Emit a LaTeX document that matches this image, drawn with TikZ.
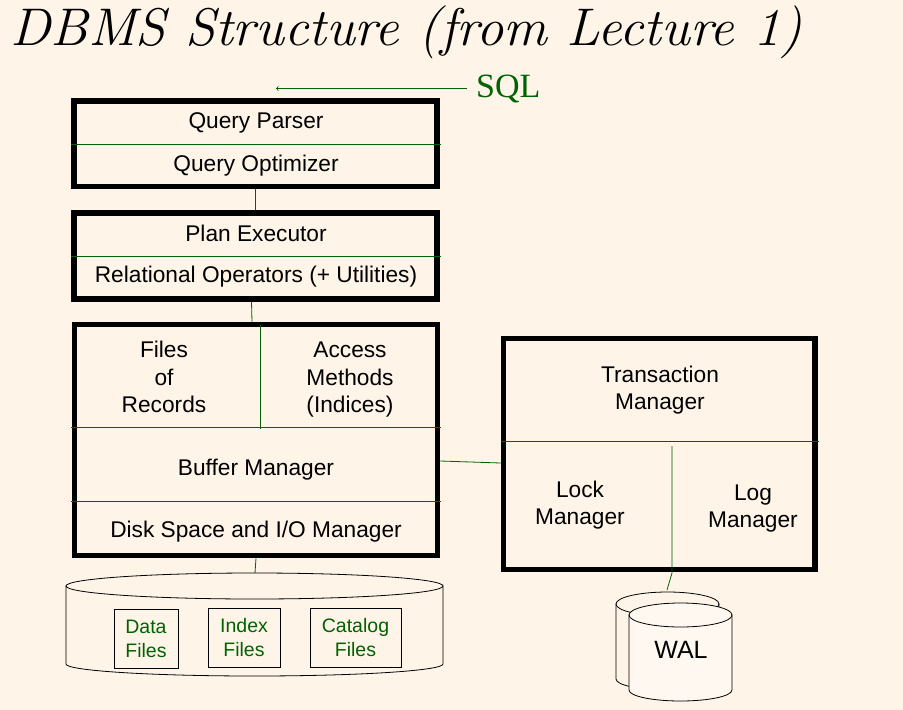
\documentclass[tikz,border=0pt]{standalone}
\usepackage{fontspec}
\newfontfamily\arial{Liberation Sans}
\newfontfamily\serifrm{Liberation Serif}
\definecolor{bg}{RGB}{254,244,232}
\definecolor{dkgreen}{RGB}{0,98,0}
\begin{document}
\begin{tikzpicture}[x=1pt,y=-1pt,
    font=\arial\fontsize{22.7}{27.5}\selectfont,
    layer/.style={draw, line width=5.5pt, inner sep=0pt},
    rule/.style={dkgreen, line width=0.8pt},
    link/.style={dkgreen, line width=0.8pt},
    filebox/.style={draw, line width=0.8pt, inner sep=0pt, align=center,
        text=dkgreen, font=\arial\fontsize{19.5}{24}\selectfont},
    drum/.style={draw, line width=0.8pt, fill=bg}]
    \fill[bg] (0,0) rectangle (903,710);
    \useasboundingbox (0,0) rectangle (903,710);
    % ---- title and input ----
    \node[anchor=base west, inner sep=0pt, xscale=1.03, font=\fontsize{53}{60}\selectfont\itshape] (title) at (10,45) {DBMS Structure (from Lecture 1)};
    \node[anchor=base west, inner sep=0pt, text=dkgreen, font=\serifrm\fontsize{34}{38}\selectfont] (sql) at (476,97) {SQL};
    \coordinate (sqltip) at (276,0);
    \draw[link,->] ([xshift=-9pt]sql.west) -- (sqltip |- sql.west);
    % ---- query processing ----
    \node[layer, minimum width=363pt, minimum height=85.5pt] (qbox) at (255.5,143.75) {};
    \draw[rule] (71,144) -- (441,144);
    \node (parser) at (256,122.5) {Query Parser};
    \node (optim) at (256,165.5) {Query Optimizer};
    \node[layer, minimum width=363pt, minimum height=86pt] (ebox) at (255.5,256) {};
    \draw[rule] (71,256) -- (441,256);
    \node (exec) at (256,233) {Plan Executor};
    \node (relop) at (256,276.5) {Relational Operators (+ Utilities)};
    % ---- storage layers ----
    \node[layer, minimum width=363pt, minimum height=231pt] (fbox) at (256,440) {};
    \draw[rule] (71,427) -- (441,427);
    \draw[rule] (71,501) -- (441,501);
    \draw[rule] (260,325) -- (260,429);
    \node[align=center] (files) at (164,377) {Files\\of\\Records};
    \node[align=center] (access) at (350,380) {Access\\Methods\\(Indices)};
    \node (buffer) at (256,469.5) {Buffer Manager};
    \node (diskmgr) at (256,531.5) {Disk Space and I/O Manager};
    % ---- transactions ----
    \node[layer, minimum width=311.5pt, minimum height=231pt] (tbox) at (659.25,454) {};
    \draw[rule] (501,441) -- (819,441);
    \node[align=center] (txn) at (660,390) {Transaction\\Manager};
    \node[align=center] (lock) at (580,505) {Lock\\Manager};
    \node[align=center] (logm) at (753,508.5) {Log\\Manager};
    % ---- connectors ----
    \coordinate (disktop) at (255,573);
    \coordinate (waltop) at (667,590);
    \draw[link] (qbox.south) -- (ebox.north);
    \draw[link] ([xshift=-4pt]ebox.south) -- ([xshift=-4pt]fbox.north);
    \draw[link] ([yshift=-21pt]fbox.east) -- ([yshift=-9pt]tbox.west);
    \draw[link] (fbox.south) -- (disktop);
    \draw[link] (672,446) -- (672,573) -- (waltop);
    % ---- database disk ----
    \draw[drum] (66,586) -- (66,664) arc[start angle=180, end angle=0, x radius=188.5, y radius=12] -- (443,586) -- cycle;
    \draw[drum] (254.5,586) ellipse [x radius=188.5, y radius=13];
    \node[filebox, minimum width=64pt, minimum height=59pt] (data) at (146,638.5) {Data\\Files};
    \node[filebox, minimum width=72pt, minimum height=59pt] (index) at (244,637.5) {Index\\Files};
    \node[filebox, minimum width=91pt, minimum height=59pt] (catalog) at (355.5,637.5) {Catalog\\Files};
    % ---- log disks ----
    \draw[drum] (616,604) -- (616,679) arc[start angle=180, end angle=0, x radius=51.5, y radius=11] -- (719,604) -- cycle;
    \draw[drum] (667.5,604) ellipse [x radius=51.5, y radius=12];
    \draw[drum, fill=white!40!bg] (629,615) -- (629,690) arc[start angle=180, end angle=0, x radius=51.5, y radius=11] -- (732,615) -- cycle;
    \draw[drum, fill=white!40!bg] (680.5,615) ellipse [x radius=51.5, y radius=12];
    \node[font=\arial\fontsize{25}{30}\selectfont] (wal) at (681,650) {WAL};
\end{tikzpicture}
\end{document}
